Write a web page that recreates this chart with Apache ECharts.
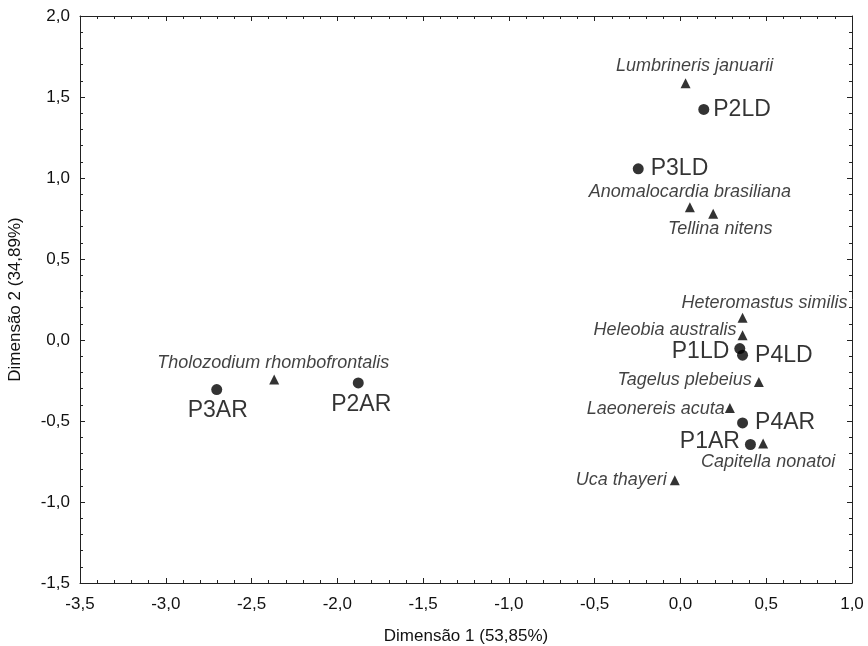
<!DOCTYPE html>
<html>
<head>
<meta charset="utf-8">
<script src="https://cdn.jsdelivr.net/npm/echarts@6/dist/echarts.min.js"></script>
<style>
html,body{margin:0;padding:0;background:#fff;}
#chart{width:868px;height:646px;}
</style>
</head>
<body>
<div id="chart"></div>
<script>
// Sites (circles)
const siteNames = ['P1LD', 'P2LD', 'P3LD', 'P4LD', 'P1AR', 'P2AR', 'P3AR', 'P4AR'];
const siteX = [0.346, 0.136, -0.246, 0.362, 0.408, -1.878, -2.703, 0.362];
const siteY = [-0.053, 1.423, 1.057, -0.094, -0.645, -0.265, -0.306, -0.512];

// Species (triangles)
const speciesNames = ['Lumbrineris januarii', 'Anomalocardia brasiliana', 'Tellina nitens',
  'Heteromastus similis', 'Heleobia australis', 'Tagelus plebeius', 'Laeonereis acuta',
  'Capitella nonatoi', 'Uca thayeri', 'Tholozodium rhombofrontalis'];
const speciesX = [0.030, 0.055, 0.191, 0.362, 0.362, 0.457, 0.288, 0.482, -0.033, -2.368];
const speciesY = [1.585, 0.820, 0.780, 0.138, 0.029, -0.259, -0.419, -0.639, -0.866, -0.244];

// Axis settings
const xMin = -3.5, xMax = 1.0, xStep = 0.5;
const yMin = -1.5, yMax = 2.0, yStep = 0.5;
const xTitle = 'Dimensão 1 (53,85%)';
const yTitle = 'Dimensão 2 (34,89%)';

// Label placement (style only)
const labelLayout = {
  'P1LD': {position: 'left', distance: 5, offset: [0, 3]},
  'P2LD': {position: 'right', distance: 4, offset: [0, 0]},
  'P3LD': {position: 'right', distance: 7, offset: [0, 0]},
  'P4LD': {position: 'right', distance: 7, offset: [0, 0]},
  'P1AR': {position: 'left', distance: 5, offset: [0, -3]},
  'P2AR': {position: 'bottom', distance: 5, offset: [3, 0]},
  'P3AR': {position: 'bottom', distance: 4, offset: [1, 0]},
  'P4AR': {position: 'right', distance: 7, offset: [0, 0]},
  'Lumbrineris januarii': {position: 'top', distance: 3, offset: [9, 0]},
  'Anomalocardia brasiliana': {position: 'top', distance: 1, offset: [0, 0]},
  'Tellina nitens': {position: 'bottom', distance: 1, offset: [7, 0]},
  'Heteromastus similis': {position: 'top', distance: 1, offset: [22, 0]},
  'Heleobia australis': {position: 'left', distance: 1, offset: [0, -5]},
  'Tagelus plebeius': {position: 'left', distance: 2, offset: [0, -2]},
  'Laeonereis acuta': {position: 'left', distance: 0, offset: [0, 1]},
  'Capitella nonatoi': {position: 'bottom', distance: 4, offset: [5, 0]},
  'Uca thayeri': {position: 'left', distance: 3, offset: [0, 0]},
  'Tholozodium rhombofrontalis': {position: 'top', distance: 3, offset: [-1, 0]}
};

const FONT = "'Liberation Sans', Arial, sans-serif";
const fmt = v => v.toFixed(1).replace('.', ',');

function buildData(names, xs, ys) {
  return names.map((n, i) => ({
    name: n,
    value: [xs[i], ys[i]],
    label: labelLayout[n]
  }));
}

const axisLineStyle = {color: '#222', width: 1};
function xAxisCfg(pos, showLabels) {
  return {
    type: 'value', position: pos, min: xMin, max: xMax, interval: xStep,
    axisLine: {show: true, onZero: false, lineStyle: axisLineStyle},
    axisTick: {show: true, inside: true, length: 5, lineStyle: axisLineStyle},
    minorTick: {show: true, splitNumber: 5, length: 3, lineStyle: axisLineStyle},
    splitLine: {show: false},
    axisLabel: {show: showLabels, formatter: fmt, color: '#111', fontFamily: FONT, fontSize: 17, margin: 13},
    name: showLabels ? xTitle : '',
    nameLocation: 'middle', nameGap: 45,
    nameTextStyle: {color: '#111', fontFamily: FONT, fontSize: 17}
  };
}
function yAxisCfg(pos, showLabels) {
  return {
    type: 'value', position: pos, min: yMin, max: yMax, interval: yStep,
    axisLine: {show: true, onZero: false, lineStyle: axisLineStyle},
    axisTick: {show: true, inside: true, length: 5, lineStyle: axisLineStyle},
    minorTick: {show: true, splitNumber: 5, length: 3, lineStyle: axisLineStyle},
    splitLine: {show: false},
    axisLabel: {show: showLabels, formatter: fmt, color: '#111', fontFamily: FONT, fontSize: 17, margin: 10},
    name: showLabels ? yTitle : '',
    nameLocation: 'middle', nameGap: 56, nameRotate: 90,
    nameTextStyle: {color: '#111', fontFamily: FONT, fontSize: 17}
  };
}

const chart = echarts.init(document.getElementById('chart'), null, {renderer: 'canvas'});
chart.setOption({
  backgroundColor: '#fff',
  animation: false,
  grid: {left: 80, top: 16, right: 16, bottom: 63, containLabel: false, outerBoundsMode: 'none'},
  xAxis: [xAxisCfg('bottom', true), xAxisCfg('top', false)],
  yAxis: [yAxisCfg('left', true), yAxisCfg('right', false)],
  series: [
    {
      type: 'scatter', xAxisIndex: 0, yAxisIndex: 0,
      symbol: 'circle', symbolSize: 11,
      itemStyle: {color: '#000'},
      label: {show: true, formatter: '{b}', color: '#000', fontFamily: FONT, fontSize: 23},
      data: buildData(siteNames, siteX, siteY)
    },
    {
      type: 'scatter', xAxisIndex: 0, yAxisIndex: 0,
      symbol: 'triangle', symbolSize: 10,
      itemStyle: {color: '#000'},
      label: {show: true, formatter: '{b}', color: '#111', fontFamily: FONT, fontSize: 18, fontStyle: 'italic'},
      data: buildData(speciesNames, speciesX, speciesY)
    }
  ]
});
</script>
</body>
</html>
